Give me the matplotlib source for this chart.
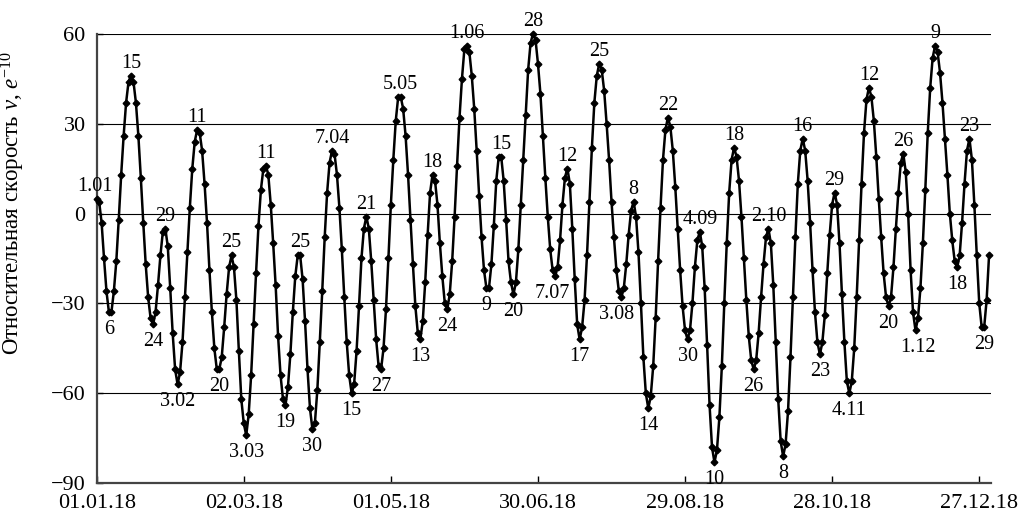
import numpy as np
import matplotlib
matplotlib.use("Agg")
import matplotlib.pyplot as plt

plt.rcParams['font.family'] = ['Liberation Serif', 'DejaVu Serif']
plt.rcParams['mathtext.fontset'] = 'custom'
plt.rcParams['mathtext.rm'] = 'Liberation Serif'
plt.rcParams['mathtext.it'] = 'Liberation Serif:italic'

# daily relative velocity values, 01.01.2018 ... 31.12.2018
velocity = [
    5, 4, -3, -15, -26, -33, -33, -26, -16, -2,
    13, 26, 37, 44, 46, 44, 37, 26, 12, -3,
    -17, -28, -35, -37, -33, -24, -14, -6, -5, -11,
    -25, -40, -52, -57, -53, -43, -28, -13, 2, 15,
    24, 28, 27, 21, 10, -3, -19, -33, -45, -52,
    -52, -48, -38, -27, -18, -14, -18, -29, -46, -62,
    -70, -74, -67, -54, -37, -20, -4, 8, 15, 16,
    13, 3, -10, -24, -41, -54, -62, -64, -58, -47,
    -33, -21, -14, -14, -22, -36, -52, -65, -72, -70,
    -59, -43, -26, -8, 7, 17, 21, 20, 13, 2,
    -12, -28, -43, -54, -60, -57, -46, -31, -15, -5,
    -1, -5, -16, -29, -42, -51, -52, -45, -32, -15,
    3, 18, 31, 39, 39, 35, 26, 13, -2, -17,
    -31, -40, -42, -36, -23, -7, 7, 13, 11, 3,
    -10, -21, -30, -32, -27, -16, -1, 16, 32, 45,
    55, 56, 54, 46, 35, 21, 6, -8, -19, -25,
    -25, -17, -4, 11, 19, 19, 11, -2, -16, -23,
    -27, -23, -12, 3, 18, 33, 48, 57, 60, 58,
    50, 40, 26, 12, -1, -12, -19, -21, -18, -9,
    3, 12, 15, 10, -5, -22, -37, -42, -38, -29,
    -14, 4, 22, 37, 46, 50, 48, 41, 30, 18,
    4, -8, -19, -26, -28, -25, -17, -7, 1, 4,
    -1, -13, -30, -48, -60, -65, -61, -51, -35, -16,
    2, 18, 28, 32, 29, 21, 9, -5, -19, -31,
    -39, -42, -39, -30, -18, -9, -6, -11, -25, -44,
    -64, -78, -83, -79, -68, -51, -30, -10, 7, 18,
    22, 19, 11, -1, -15, -29, -41, -49, -52, -49,
    -40, -28, -17, -8, -5, -10, -24, -43, -62, -76,
    -81, -77, -66, -48, -28, -8, 10, 21, 25, 21,
    11, -3, -19, -33, -43, -47, -43, -34, -20, -7,
    3, 7, 3, -10, -27, -43, -56, -60, -56, -45,
    -28, -9, 10, 27, 38, 42, 39, 31, 19, 5,
    -8, -20, -28, -31, -28, -18, -5, 7, 17, 20,
    14, 0, -19, -33, -39, -35, -25, -10, 8, 27,
    42, 52, 56, 54, 47, 37, 25, 13, 0, -9,
    -16, -18, -14, -3, 10, 21, 25, 18, 3, -14,
    -30, -38, -38, -29, -14,
]

# extremum annotations: day index, text, peak (1) / trough (-1)
label_days = [0, 5, 14, 23, 28, 33, 41, 50, 55, 61, 69, 77, 83, 88, 96, 104, 110, 116,
              124, 132, 137, 143, 151, 159, 165, 170, 178, 187, 192, 197, 205, 214, 219,
              225, 233, 241, 246, 252, 260, 268, 274, 280, 288, 295, 301, 307, 315, 323,
              329, 334, 342, 351, 356, 362]
label_texts = ['1.01', '6', '15', '24', '29', '3.02', '11', '20', '25', '3.03', '11', '19',
               '25', '30', '7.04', '15', '21', '27', '5.05', '13', '18', '24', '1.06', '9',
               '15', '20', '28', '7.07', '12', '17', '25', '3.08', '8', '14', '22', '30',
               '4.09', '10', '18', '26', '2.10', '8', '16', '23', '29', '4.11', '12', '20',
               '26', '1.12', '9', '18', '23', '29']
label_kind = [1 if i % 2 == 0 else -1 for i in range(len(label_days))]

tick_days = [0, 60, 120, 180, 240, 300, 360]
tick_labels = ['01.01.18', '02.03.18', '01.05.18', '30.06.18', '29.08.18', '28.10.18', '27.12.18']
y_ticks = [-90, -60, -30, 0, 30, 60]

fig = plt.figure(figsize=(10.22, 5.15), dpi=100)
ax = fig.add_axes([0.0946, 0.0616, 0.8746, 0.873])

days = np.arange(len(velocity))
ax.set_xlim(0, 364.6)
ax.set_ylim(-90, 60)

for yv in y_ticks[1:]:
    ax.axhline(yv, color='black', linewidth=0.8, zorder=1)

ax.plot(days, velocity, color='black', linewidth=1.8, marker='D', markersize=3.4,
        clip_on=False, zorder=3)

# small horizontal tweaks (in days) for some labels
dx = {'1.01': -0.8, '3.08': -2.0, '7.07': -1.0, '1.12': 1.0}
for d, t, k in zip(label_days, label_texts, label_kind):
    off = 9.0 if k > 0 else -12.5
    ax.annotate(t, xy=(d + dx.get(t, 0.0), velocity[d]), xytext=(0, off),
                textcoords='offset points', ha='center', va='center',
                fontsize=14.5, annotation_clip=False, zorder=4)

ax.set_xticks(tick_days)
ax.set_xticklabels(tick_labels, fontsize=16)
ax.set_yticks(y_ticks)
ax.set_yticklabels([f'{v}'.replace('-', '\u2212') for v in y_ticks], fontsize=16)
ax.tick_params(axis='x', direction='in', length=5, width=1, pad=8, color='black')
ax.tick_params(axis='y', direction='in', length=4, width=1, pad=8, color='black')

for s in ['top', 'right']:
    ax.spines[s].set_visible(False)
for s in ['left', 'bottom']:
    ax.spines[s].set_color('#444444')
    ax.spines[s].set_linewidth(1.6)

fig.text(13 / 1022, 1 - 203 / 515, 'Относительная скорость $v$, $e^{-10}$',
         rotation=90, ha='center', va='center', fontsize=16.5)

fig.savefig('out.png', dpi=100)
